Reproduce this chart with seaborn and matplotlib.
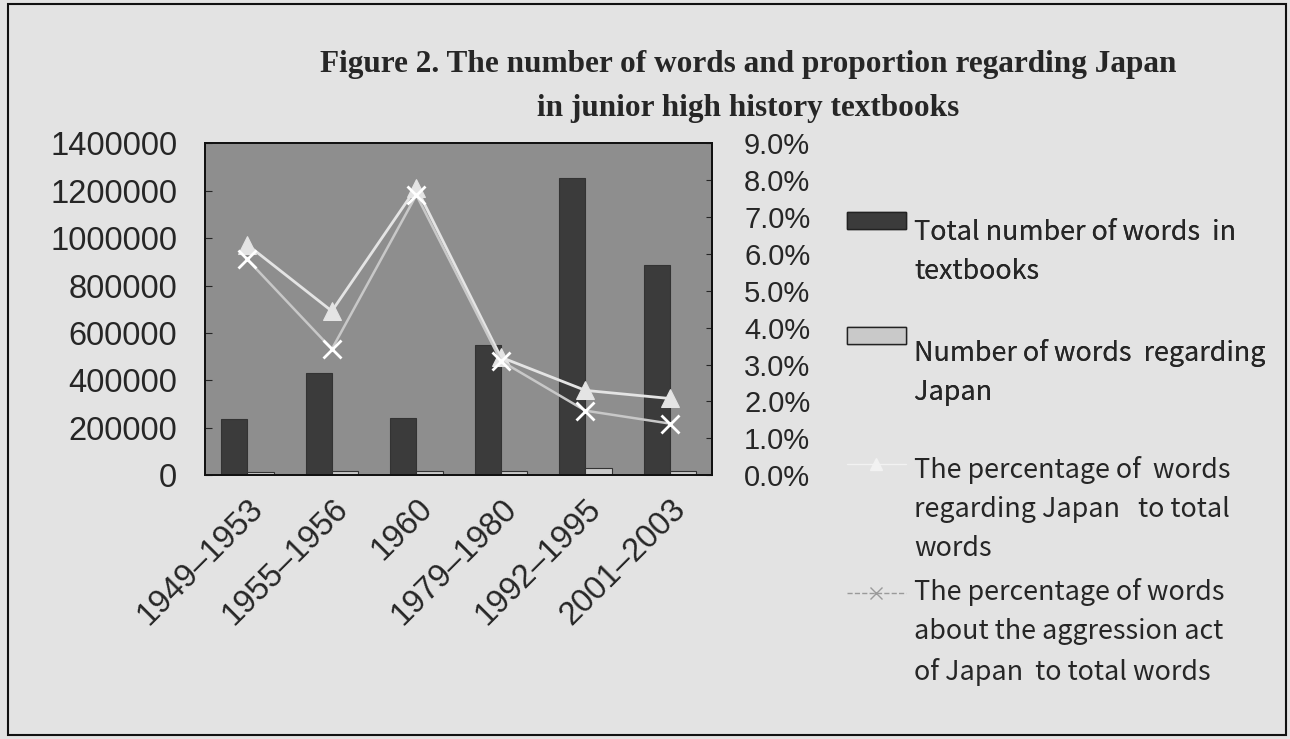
import seaborn as sns
import matplotlib.pyplot as plt
import numpy as np
import pandas as pd
from matplotlib.patches import Patch, Rectangle
from matplotlib.lines import Line2D
from matplotlib.legend_handler import HandlerPatch, HandlerLine2D
from matplotlib.ticker import FixedLocator, FuncFormatter

# data
periods = ['1949–1953', '1955–1956', '1960', '1979–1980', '1992–1995', '2001–2003']
total_words = [236000, 430000, 240000, 548000, 1252000, 886000]
japan_words = [14600, 19200, 18700, 17500, 28800, 18600]
pct_japan = [6.25, 4.45, 7.8, 3.2, 2.3, 2.08]
pct_aggression = [5.85, 3.42, 7.6, 3.1, 1.75, 1.4]

lab_total = 'Total number of words  in\ntextbooks'
lab_japan = 'Number of words  regarding\nJapan'
lab_pct = 'The percentage of  words\nregarding Japan   to total\nwords'
lab_aggr = 'The percentage of words\nabout the aggression act\nof Japan  to total words'

df = pd.DataFrame({
    'period': periods * 2,
    'words': total_words + japan_words,
    'series': [lab_total] * 6 + [lab_japan] * 6,
})


def raised_patch(dy):
    # legend patch drawn next to the first text line instead of the middle
    def make(legend, orig_handle, xdescent, ydescent, width, height, fontsize):
        return Rectangle((-xdescent, -ydescent + dy * fontsize), width, height)
    return make


class RaisedLine(HandlerLine2D):
    def __init__(self, dy, **kw):
        super().__init__(**kw)
        self.dy = dy

    def create_artists(self, legend, orig_handle, xdescent, ydescent,
                       width, height, fontsize, trans):
        return super().create_artists(legend, orig_handle, xdescent,
                                      ydescent - 2 * self.dy * fontsize,
                                      width, height, fontsize, trans)


sns.set_style('white')
plt.rcParams['font.family'] = ['Liberation Sans', 'DejaVu Sans']

dark = '#3b3b3b'
light = '#c9c9c9'
tri_col = '#e4e4e4'
x_col = '#c8c8c8'

fig = plt.figure(figsize=(12.9, 7.39), dpi=100, facecolor='#e3e3e3')
ax = fig.add_axes([0.159, 0.357, 0.393, 0.449])
ax.set_facecolor('#8e8e8e')

sns.barplot(data=df, x='period', y='words', hue='series', ax=ax,
            palette=[dark, light], width=0.62, edgecolor='#333333',
            linewidth=0.8, legend=False)
ax.set_ylim(0, 1400000)
ax.set_xlim(-0.5, len(periods) - 0.5)
ax.set_yticks(np.arange(0, 1400001, 200000))
ax.yaxis.set_major_formatter(FuncFormatter(lambda v, p: f'{int(v)}'))
ax.set_xlabel('')
ax.set_ylabel('')
ax.tick_params(axis='y', labelsize=23.5, direction='in', length=5, pad=20)
ax.tick_params(axis='x', labelsize=23.5, length=0, pad=13)
ax.xaxis.set_minor_locator(FixedLocator(np.arange(0.5, len(periods) - 1, 1)))
ax.tick_params(axis='x', which='minor', direction='in', length=9, width=1.2)
for lbl in ax.get_xticklabels():
    lbl.set_rotation(45)
    lbl.set_ha('right')
    lbl.set_rotation_mode('anchor')

ax2 = ax.twinx()
xs = np.arange(len(periods))
sns.lineplot(x=xs, y=pct_japan, ax=ax2, color=tri_col, marker='^',
             markersize=13, linewidth=2, markeredgecolor=tri_col)
sns.lineplot(x=xs, y=pct_aggression, ax=ax2, color=x_col, marker='x',
             markersize=13, linewidth=1.8, markeredgewidth=2)
ax2.set_ylim(0, 9)
ax2.set_xlim(-0.5, len(periods) - 0.5)
ax2.set_yticks(np.arange(0, 9.01, 1))
ax2.yaxis.set_major_formatter(FuncFormatter(lambda v, p: f'{v:.1f}%'))
ax2.tick_params(axis='y', labelsize=21, direction='in', length=4, pad=23)

for a in (ax, ax2):
    for s in a.spines.values():
        s.set_color('#111111')
        s.set_linewidth(1.3)

fig.text(0.58, 0.883, 'Figure 2. The number of words and proportion regarding Japan\n'
         'in junior high history textbooks', ha='center', va='center',
         family='Liberation Serif', weight='bold', fontsize=22.5, linespacing=1.65)

leg_font = {'family': 'Noto Sans CJK JP', 'size': 19.4}
h_total = Patch(facecolor=dark, edgecolor='#222222')
h_japan = Patch(facecolor=light, edgecolor='#222222')
leg1 = fig.legend([h_total, h_japan], [lab_total, lab_japan], loc='upper left',
                  bbox_to_anchor=(0.646, 0.722), frameon=False, borderpad=0,
                  handlelength=2.2, handleheight=0.55, handletextpad=0.3,
                  labelspacing=2.0, prop=leg_font,
                  handler_map={h_total: HandlerPatch(patch_func=raised_patch(1.2)),
                               h_japan: HandlerPatch(patch_func=raised_patch(1.4))})
h_pct = Line2D([], [], color='#f2f2f2', marker='^', markersize=8, lw=1)
h_aggr = Line2D([], [], color='#9a9a9a', marker='x', markersize=8, lw=1,
                linestyle='--')
leg2 = fig.legend([h_pct, h_aggr], [lab_pct, lab_aggr], loc='upper left',
                  bbox_to_anchor=(0.646, 0.401), frameon=False, borderpad=0,
                  handlelength=2.2, handletextpad=0.3, labelspacing=0.6,
                  prop=leg_font,
                  handler_map={h_pct: RaisedLine(1.7), h_aggr: RaisedLine(1.5)})
fig.add_artist(leg1)
for t in leg1.get_texts() + leg2.get_texts():
    t.set_linespacing(1.57)

fig.add_artist(Rectangle((0.006, 0.005), 0.991, 0.99, transform=fig.transFigure,
                         fill=False, edgecolor='#111111', linewidth=1.5))

fig.savefig('out.png', dpi=100, facecolor=fig.get_facecolor())
